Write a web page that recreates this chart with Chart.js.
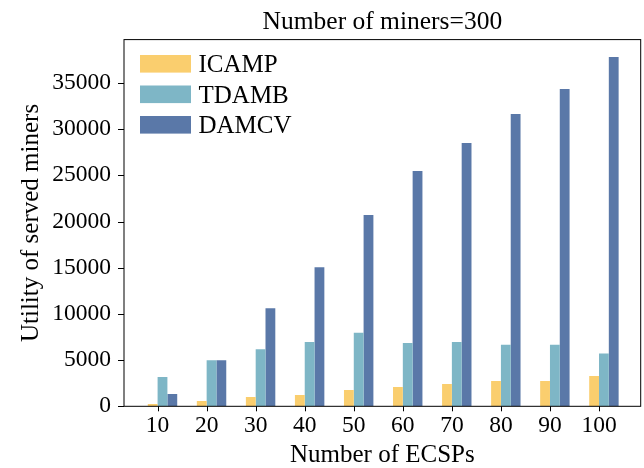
<!DOCTYPE html>
<html>
<head>
<meta charset="utf-8">
<script src="https://cdn.jsdelivr.net/npm/chart.js@4/dist/chart.umd.min.js"></script>
<style>
  html, body { margin: 0; padding: 0; background: #fff; }
  #wrap { width: 644px; height: 468px; position: relative; }
</style>
</head>
<body>
<div id="wrap"><canvas id="cv"></canvas></div>
<script>
// chart values
var ecsps = [10, 20, 30, 40, 50, 60, 70, 80, 90, 100];
var icamp = [250, 580, 1010, 1230, 1770, 2090, 2420, 2750, 2750, 3290];
var tdamb = [3180, 4990, 6180, 6970, 7950, 6850, 6950, 6650, 6650, 5720];
var damcv = [1330, 4990, 10620, 15060, 20700, 25470, 28500, 31640, 34350, 37820];
var yTicks = [0, 5000, 10000, 15000, 20000, 25000, 30000, 35000];
var seriesNames = ["ICAMP", "TDAMB", "DAMCV"];
var seriesColors = ["#FACE6E", "#7EB6C6", "#5A78A8"];

var serif = "'Liberation Serif', 'Times New Roman', serif";

// turn a value list into {x, y} points on the numeric x axis
function points(values) {
    return ecsps.map(function (e, i) { return { x: e, y: values[i] }; });
}

// frame, tick marks and the legend box inside the plot
var extras = {
    id: "extras",
    afterDraw: function (chart) {
        var ctx = chart.ctx;
        var area = chart.chartArea;
        var ys = chart.scales.y;
        ctx.save();
        ctx.strokeStyle = "#000";
        ctx.lineWidth = 1;
        ctx.strokeRect(area.left, area.top, area.right - area.left, area.bottom - area.top);

        // x ticks sit at the left edge of the middle bar
        var mid = chart.getDatasetMeta(1).data;
        ctx.beginPath();
        mid.forEach(function (bar) {
            var p = bar.getProps(["x", "width"], true);
            var tx = Math.round(p.x - p.width / 2) + 0.5;
            ctx.moveTo(tx, area.bottom);
            ctx.lineTo(tx, area.bottom + 5);
        });
        yTicks.forEach(function (v) {
            var ty = Math.round(ys.getPixelForValue(v)) + 0.5;
            ctx.moveTo(area.left, ty);
            ctx.lineTo(area.left - 6, ty);
        });
        ctx.stroke();

        // legend
        ctx.font = "25px " + serif;
        ctx.textBaseline = "alphabetic";
        ctx.textAlign = "left";
        seriesNames.forEach(function (name, i) {
            var cy = 63.8 + i * 30.5;
            ctx.fillStyle = seriesColors[i];
            ctx.fillRect(140, cy - 8.8, 51, 17.6);
            ctx.fillStyle = "#000";
            ctx.fillText(name, 198.5, cy + 8.3);
        });
        ctx.restore();
    }
};

var ctx = document.getElementById("cv").getContext("2d");
Chart.defaults.color = "#000";
Chart.defaults.font.family = serif;

new Chart(ctx, {
    type: "bar",
    data: {
        datasets: [
            { label: seriesNames[0], data: points(icamp), backgroundColor: seriesColors[0] },
            { label: seriesNames[1], data: points(tdamb), backgroundColor: seriesColors[1] },
            { label: seriesNames[2], data: points(damcv), backgroundColor: seriesColors[2] }
        ]
    },
    options: {
        responsive: true,
        maintainAspectRatio: false,
        animation: false,
        events: [],
        layout: { padding: { left: 0, right: 3.3, top: 0, bottom: 0 } },
        datasets: {
            bar: { categoryPercentage: 0.6, barPercentage: 1.0, borderWidth: 0 }
        },
        plugins: {
            legend: { display: false },
            tooltip: { enabled: false },
            title: {
                display: true,
                text: "Number of miners=300",
                fullSize: false,
                color: "#000",
                font: { size: 25.5, weight: "normal", family: serif, lineHeight: 1.2 },
                padding: { top: 7.3, bottom: 1.7 }
            }
        },
        scales: {
            x: {
                type: "linear",
                offset: false,
                min: 2.15,
                max: 107.5,
                grid: { display: false, drawTicks: false, offset: false },
                border: { display: false },
                afterBuildTicks: function (s) {
                    s.ticks = ecsps.map(function (v) { return { value: v }; });
                },
                afterFit: function (s) { s.height = 61.7; },
                ticks: {
                    padding: 5.7,
                    labelOffset: -4.9,
                    maxRotation: 0,
                    autoSkip: false,
                    font: { size: 23.5, family: serif },
                    callback: function (v) { return String(v); }
                },
                title: {
                    display: true,
                    text: "Number of ECSPs",
                    font: { size: 25, family: serif, lineHeight: 1 },
                    padding: { top: 0, bottom: 0.2 }
                }
            },
            y: {
                min: 0,
                max: 39690,
                grid: { display: false, drawTicks: false },
                border: { display: false },
                afterBuildTicks: function (s) {
                    s.ticks = yTicks.map(function (v) { return { value: v }; });
                },
                afterFit: function (s) { s.width = 124; },
                ticks: {
                    padding: 13,
                    font: { size: 23.5, family: serif },
                    callback: function (v) { return String(v); }
                },
                title: {
                    display: true,
                    text: "Utility of served miners",
                    font: { size: 25, family: serif, lineHeight: 1.2 },
                    padding: { top: 16, bottom: 0 }
                }
            }
        }
    },
    plugins: [extras]
});
</script>
</body>
</html>
